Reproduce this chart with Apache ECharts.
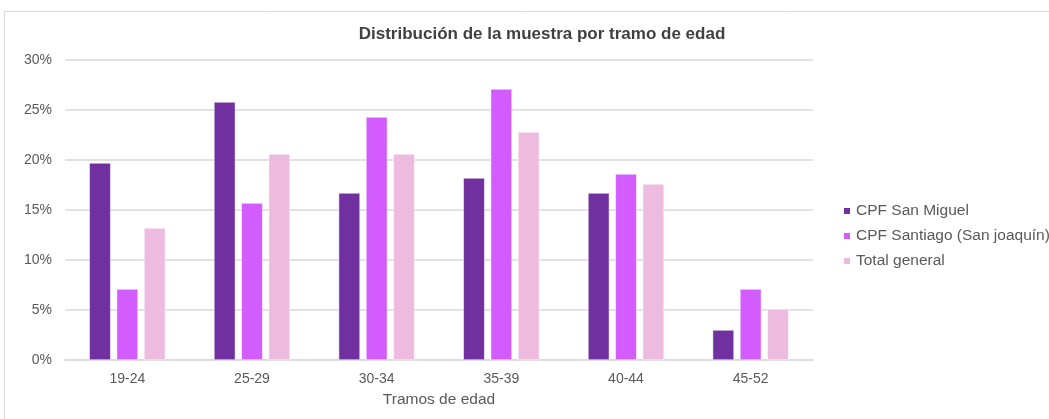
<!DOCTYPE html>
<html>
<head>
<meta charset="utf-8">
<script src="https://cdn.jsdelivr.net/npm/echarts@6/dist/echarts.min.js"></script>
<style>
  html, body { margin: 0; padding: 0; background: #fff; }
</style>
</head>
<body>
<div id="main" style="width:1049px;height:419px;"></div>
<script>
// datos (porcentaje)
var tramos = ['19-24', '25-29', '30-34', '35-39', '40-44', '45-52'];
var sanMiguel = [19.7, 25.8, 16.7, 18.2, 16.7, 3.0];
var santiago = [7.1, 15.7, 24.3, 27.1, 18.6, 7.1];
var totalGeneral = [13.2, 20.6, 20.6, 22.8, 17.6, 5.1];
var yTicks = [0, 5, 10, 15, 20, 25, 30];

var myChart = echarts.init(document.getElementById('main'));

var font = 'Liberation Sans, Arial, sans-serif';

function serie(name, data, color) {
    return {
        name: name,
        type: 'bar',
        data: data,
        barGap: '28%',
        barCategoryGap: '39%',
        itemStyle: { color: color, borderColor: '#fff', borderWidth: 0.5 }
    };
}

var option = {
    backgroundColor: '#fff',
    animation: false,
    textStyle: { fontFamily: font },
    graphic: [{
        type: 'rect',
        shape: { x: 4.5, y: 11.5, width: 1060, height: 420 },
        style: { fill: 'none', stroke: '#d9d9d9', lineWidth: 1 },
        silent: true
    }],
    title: {
        text: 'Distribución de la muestra por tramo de edad',
        left: 537,
        textAlign: 'center',
        top: 21,
        textStyle: { fontSize: 17, fontWeight: 'bold', color: '#404040', fontFamily: font }
    },
    legend: {
        orient: 'vertical',
        left: 837,
        top: 198,
        itemWidth: 8,
        itemHeight: 8,
        itemGap: 9,
        icon: 'rect',
        textStyle: { fontSize: 15.5, color: '#595959', fontFamily: font },
        data: ['CPF San Miguel', 'CPF Santiago (San joaquín)', 'Total general']
    },
    grid: { left: 65, right: 236, top: 60, bottom: 59 },
    xAxis: {
        type: 'category',
        data: tramos,
        name: 'Tramos de edad',
        nameLocation: 'middle',
        nameGap: 32,
        nameTextStyle: { fontSize: 15.5, color: '#595959' },
        axisLine: { lineStyle: { color: '#d9d9d9', width: 1.5 } },
        axisTick: { show: false },
        axisLabel: { fontSize: 14, color: '#595959', margin: 12 }
    },
    yAxis: {
        type: 'value',
        min: yTicks[0],
        max: yTicks[yTicks.length - 1],
        interval: 5,
        axisLine: { show: false },
        axisTick: { show: false },
        axisLabel: { fontSize: 14, color: '#595959', margin: 13, formatter: '{value}%' },
        splitLine: { lineStyle: { color: '#d9d9d9', width: 1.5 } }
    },
    series: [
        serie('CPF San Miguel', sanMiguel, '#7030a0'),
        serie('CPF Santiago (San joaquín)', santiago, '#d35cff'),
        serie('Total general', totalGeneral, '#eebbe0')
    ]
};

myChart.setOption(option);
</script>
</body>
</html>
